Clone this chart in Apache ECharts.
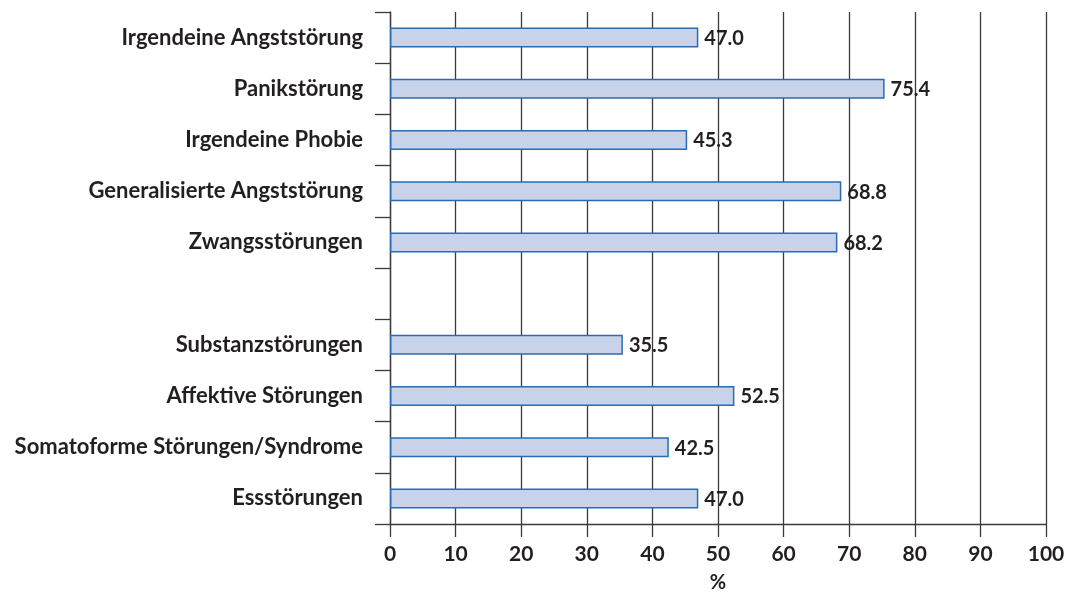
<!DOCTYPE html>
<html>
<head>
<meta charset="utf-8">
<script src="https://cdn.jsdelivr.net/npm/echarts@6/dist/echarts.min.js"></script>
<style>
html,body{margin:0;padding:0;background:#fff;}
#chart{width:1076px;height:592px;}
</style>
</head>
<body>
<div id="chart"></div>
<script>
const categories = [
  'Irgendeine Angststörung',
  'Panikstörung',
  'Irgendeine Phobie',
  'Generalisierte Angststörung',
  'Zwangsstörungen',
  '',
  'Substanzstörungen',
  'Affektive Störungen',
  'Somatoforme Störungen/Syndrome',
  'Essstörungen'
];
const values = [47.0, 75.4, 45.3, 68.8, 68.2, null, 35.5, 52.5, 42.5, 47.0];
const xTicks = [0, 10, 20, 30, 40, 50, 60, 70, 80, 90, 100];

const font = 'Lato, "Open Sans", sans-serif';
const textColor = '#231f20';
const lineColor = '#3a3a3a';

const chart = echarts.init(document.getElementById('chart'));
chart.setOption({
  animation: false,
  grid: { left: 390, right: 30, top: 12, bottom: 68, containLabel: false, outerBoundsMode: 'none' },
  xAxis: {
    type: 'value',
    min: xTicks[0],
    max: xTicks[xTicks.length - 1],
    interval: 10,
    name: '%',
    nameLocation: 'middle',
    nameGap: 49,
    nameTextStyle: { fontFamily: font, fontWeight: 'bold', fontSize: 20, color: textColor },
    axisLine: { show: true, lineStyle: { color: lineColor, width: 1.3 } },
    axisTick: { show: true, length: 13, lineStyle: { color: lineColor, width: 1.3 } },
    axisLabel: { margin: 20, fontFamily: font, fontWeight: 'bold', fontSize: 21, color: textColor },
    splitLine: { show: true, lineStyle: { color: lineColor, width: 1.3 } }
  },
  yAxis: {
    type: 'category',
    data: categories,
    inverse: true,
    axisLine: { show: true, lineStyle: { color: lineColor, width: 1.3 } },
    axisTick: { show: true, length: 15, lineStyle: { color: lineColor, width: 1.3 } },
    axisLabel: { margin: 27, fontFamily: font, fontWeight: 'bold', fontSize: 22, color: textColor },
    splitLine: { show: false }
  },
  series: [{
    type: 'bar',
    data: values,
    barWidth: 20,
    itemStyle: { color: '#c8d2e9', borderColor: '#2a6cb3', borderWidth: 1.5 },
    label: {
      show: true,
      position: 'right',
      distance: 6,
      offset: [0, 1],
      formatter: p => p.value == null ? '' : p.value.toFixed(1),
      fontFamily: font, fontWeight: 'bold', fontSize: 20, color: textColor
    }
  }]
});
</script>
</body>
</html>
